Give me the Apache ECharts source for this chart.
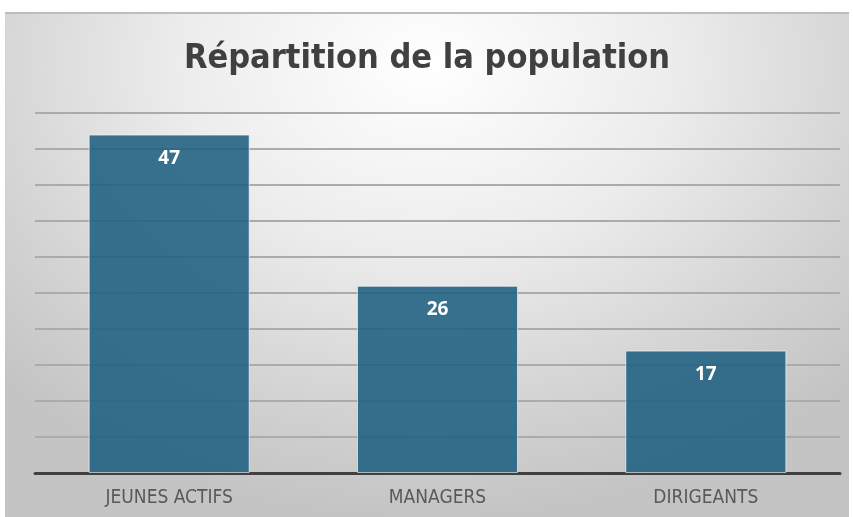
<!DOCTYPE html>
<html>
<head>
<meta charset="utf-8">
<script src="https://cdn.jsdelivr.net/npm/echarts@6/dist/echarts.min.js"></script>
<style>
html, body { margin: 0; padding: 0; background: #ffffff; }
#wrap {
	position: absolute; left: 5px; top: 12px; width: 844px; height: 505px;
	border-top: 2px solid #bdbdbd;
	box-sizing: border-box;
	background: radial-gradient(ellipse 70% 90% at 50% 10%, #ffffff 0%, #ececec 42%, #d2d2d2 78%, #c4c4c4 100%);
}
#chart { width: 844px; height: 503px; }
</style>
</head>
<body>
<div id="wrap"><div id="chart"></div></div>
<script>
var categories = ['JEUNES ACTIFS', 'MANAGERS', 'DIRIGEANTS'];
var values = [47, 26, 17];
var titleText = 'Répartition de la population';

var condensed = '"DejaVu Sans Condensed", Roboto, sans-serif';

var myChart = echarts.init(document.getElementById('chart'), null, { renderer: 'canvas' });

var option = {
	backgroundColor: 'transparent',
	animation: false,
	title: {
		text: titleText,
		left: 'center',
		top: 23,
		textStyle: {
			fontFamily: condensed,
			fontWeight: 'bold',
			fontSize: 34,
			color: '#404040'
		}
	},
	grid: {
		left: 30,
		right: 9,
		top: 99,
		bottom: 44
	},
	xAxis: {
		type: 'category',
		data: categories,
		axisTick: { show: false },
		axisLine: { lineStyle: { color: '#404040', width: 3 } },
		axisLabel: {
			margin: 16,
			fontFamily: condensed,
			fontSize: 19,
			color: '#595959'
		}
	},
	yAxis: {
		type: 'value',
		min: 0,
		max: 50,
		interval: 5,
		axisLabel: { show: false },
		axisLine: { show: false },
		axisTick: { show: false },
		splitLine: { lineStyle: { color: '#ababab', width: 2 } }
	},
	series: [{
		type: 'bar',
		data: values,
		barWidth: '60%',
		z: 3,
		itemStyle: {
			color: 'rgba(31, 96, 128, 0.88)',
			borderColor: 'rgba(255,255,255,0.6)',
			borderWidth: 1
		},
		label: {
			show: true,
			position: 'insideTop',
			distance: 14,
			fontFamily: 'Open Sans',
			fontWeight: 'bold',
			fontSize: 19,
			color: '#ffffff'
		}
	}]
};

myChart.setOption(option);
</script>
</body>
</html>
